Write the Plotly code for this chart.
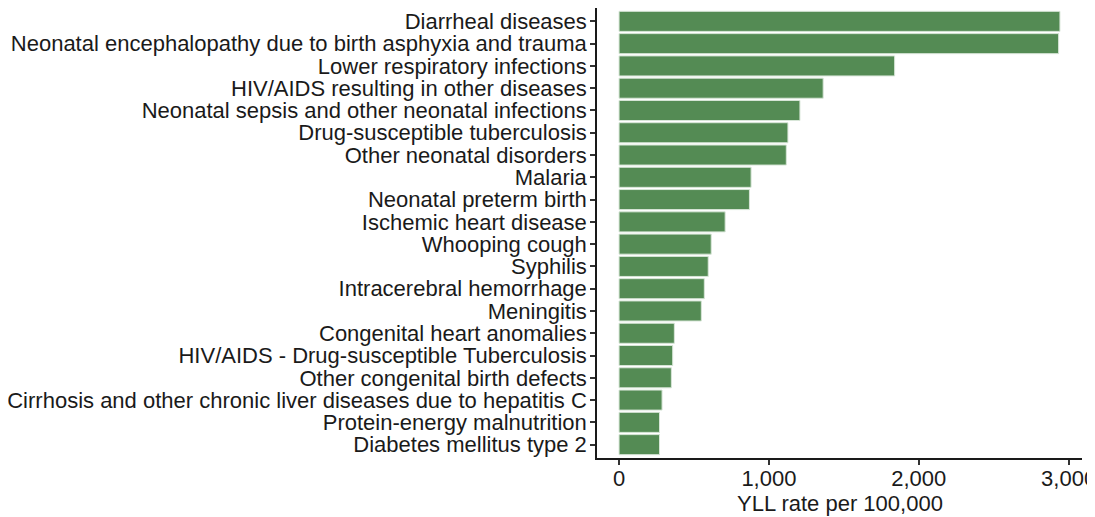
import plotly.graph_objects as go

causes = [
    "Diarrheal diseases",
    "Neonatal encephalopathy due to birth asphyxia and trauma",
    "Lower respiratory infections",
    "HIV/AIDS resulting in other diseases",
    "Neonatal sepsis and other neonatal infections",
    "Drug-susceptible tuberculosis",
    "Other neonatal disorders",
    "Malaria",
    "Neonatal preterm birth",
    "Ischemic heart disease",
    "Whooping cough",
    "Syphilis",
    "Intracerebral hemorrhage",
    "Meningitis",
    "Congenital heart anomalies",
    "HIV/AIDS - Drug-susceptible Tuberculosis",
    "Other congenital birth defects",
    "Cirrhosis and other chronic liver diseases due to hepatitis C",
    "Protein-energy malnutrition",
    "Diabetes mellitus type 2",
]
yll_rate = [2942, 2933, 1839, 1362, 1207, 1127, 1116, 881, 870, 708,
            615, 595, 569, 549, 369, 358, 349, 287, 270, 270]

x_ticks = [0, 1000, 2000, 3000]
x_tick_labels = ["0", "1,000", "2,000", "3,000"]
x_title = "YLL rate per 100,000"

FONT = "Liberation Sans, Arial, sans-serif"
FS = 22
TXT = "#1a1a1a"

fig = go.Figure(go.Bar(
    x=yll_rate,
    y=causes,
    orientation="h",
    width=0.9,
    marker=dict(color="#548B54", line=dict(color="#d8e6d8", width=1)),
))

xmax = max(yll_rate)
pad = 0.05 * xmax

fig.update_layout(
    width=1087, height=509,
    margin=dict(l=589, r=13, t=0, b=59),
    paper_bgcolor="white", plot_bgcolor="white",
    font=dict(family=FONT, size=FS, color=TXT),
    showlegend=False,
    bargap=0.1,
    xaxis=dict(
        range=[-pad, xmax + pad],
        tickvals=x_ticks, ticktext=x_tick_labels,
        automargin=False,
        ticklabeloverflow="allow",
        ticklabelstandoff=-5,
        showline=True, linecolor=TXT, linewidth=1.5,
        ticks="outside", ticklen=5, tickcolor="#333333", tickwidth=1.5,
        showgrid=False, zeroline=False,
        tickfont=dict(family=FONT, size=FS, color=TXT),
    ),
    yaxis=dict(
        tickmode="array", tickvals=causes, ticktext=causes,
        categoryorder="array", categoryarray=causes,
        range=[len(causes) - 0.4, -0.6],
        automargin=False,
        ticklabeloverflow="allow",
        ticklabelstandoff=-1,
        showline=True, linecolor=TXT, linewidth=1.5,
        ticks="outside", ticklen=5, tickcolor="#333333", tickwidth=1.5,
        showgrid=False, zeroline=False,
        tickfont=dict(family=FONT, size=FS, color=TXT),
    ),
    annotations=[dict(
        text=x_title, xref="paper", yref="paper", x=0.5, y=0,
        xanchor="center", yanchor="middle", yshift=-45, showarrow=False,
        font=dict(family=FONT, size=FS, color=TXT),
    )],
)

fig.write_html("out.html")
